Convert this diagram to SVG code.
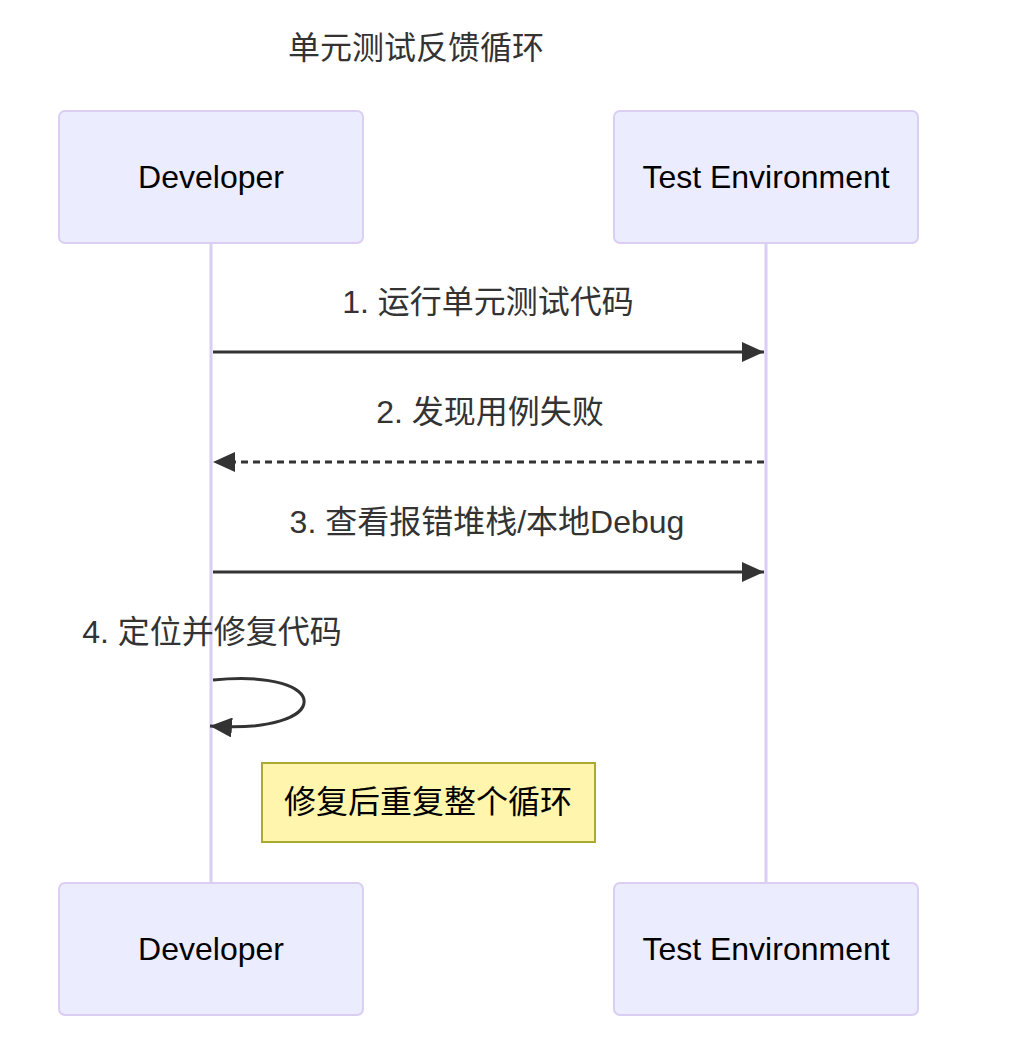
<svg xmlns="http://www.w3.org/2000/svg" width="1024" height="1052" viewBox="0 0 1024 1052">
<style>
text{font-family:"Liberation Sans","Noto Sans CJK SC",sans-serif;font-size:32px;fill:#333;dominant-baseline:central;text-anchor:middle}
.actor rect{fill:#ECECFF;stroke:#DACEF3;stroke-width:2}
.actor text{fill:#000}
.life{stroke:#DACEF3;stroke-width:3}
.msg{stroke:#333;stroke-width:3;fill:none}
.note rect{fill:#FFF5AD;stroke:#AAAA33;stroke-width:2}
.note text{fill:#000}
</style>
<defs>
<marker id="ah" markerUnits="userSpaceOnUse" markerWidth="24" markerHeight="20" refX="22" refY="10" orient="auto">
<path d="M0,0 L22,10 L0,20 z" fill="#333"/>
</marker>
</defs>
<rect width="1024" height="1052" fill="#fff"/>
<text id="title" x="416" y="48">单元测试反馈循环</text>
<g id="lifelines">
<line class="life" x1="211" y1="243" x2="211" y2="883"/>
<line class="life" x1="766" y1="243" x2="766" y2="883"/>
</g>
<g id="actor-dev-top" class="actor"><rect x="59" y="111" width="304" height="132" rx="6"/><text x="211" y="177">Developer</text></g>
<g id="actor-env-top" class="actor"><rect x="614" y="111" width="304" height="132" rx="6"/><text x="766" y="177">Test Environment</text></g>
<g id="actor-dev-bottom" class="actor"><rect x="59" y="883" width="304" height="132" rx="6"/><text x="211" y="949">Developer</text></g>
<g id="actor-env-bottom" class="actor"><rect x="614" y="883" width="304" height="132" rx="6"/><text x="766" y="949">Test Environment</text></g>
<g id="connectors">
<text x="488" y="302">1. 运行单元测试代码</text>
<line class="msg" x1="213" y1="352" x2="764" y2="352" marker-end="url(#ah)"/>
<text x="490" y="412">2. 发现用例失败</text>
<line class="msg" x1="764" y1="462" x2="213" y2="462" stroke-dasharray="7,5" marker-end="url(#ah)"/>
<text x="487" y="522">3. 查看报错堆栈/本地Debug</text>
<line class="msg" x1="213" y1="572" x2="764" y2="572" marker-end="url(#ah)"/>
<text x="212" y="632">4. 定位并修复代码</text>
<path class="msg" d="M213,680 C335,668 335,735 210,726" marker-end="url(#ah)"/>
</g>
<g id="note" class="note"><rect x="262" y="763" width="333" height="79"/><text x="428" y="802">修复后重复整个循环</text></g>
</svg>
